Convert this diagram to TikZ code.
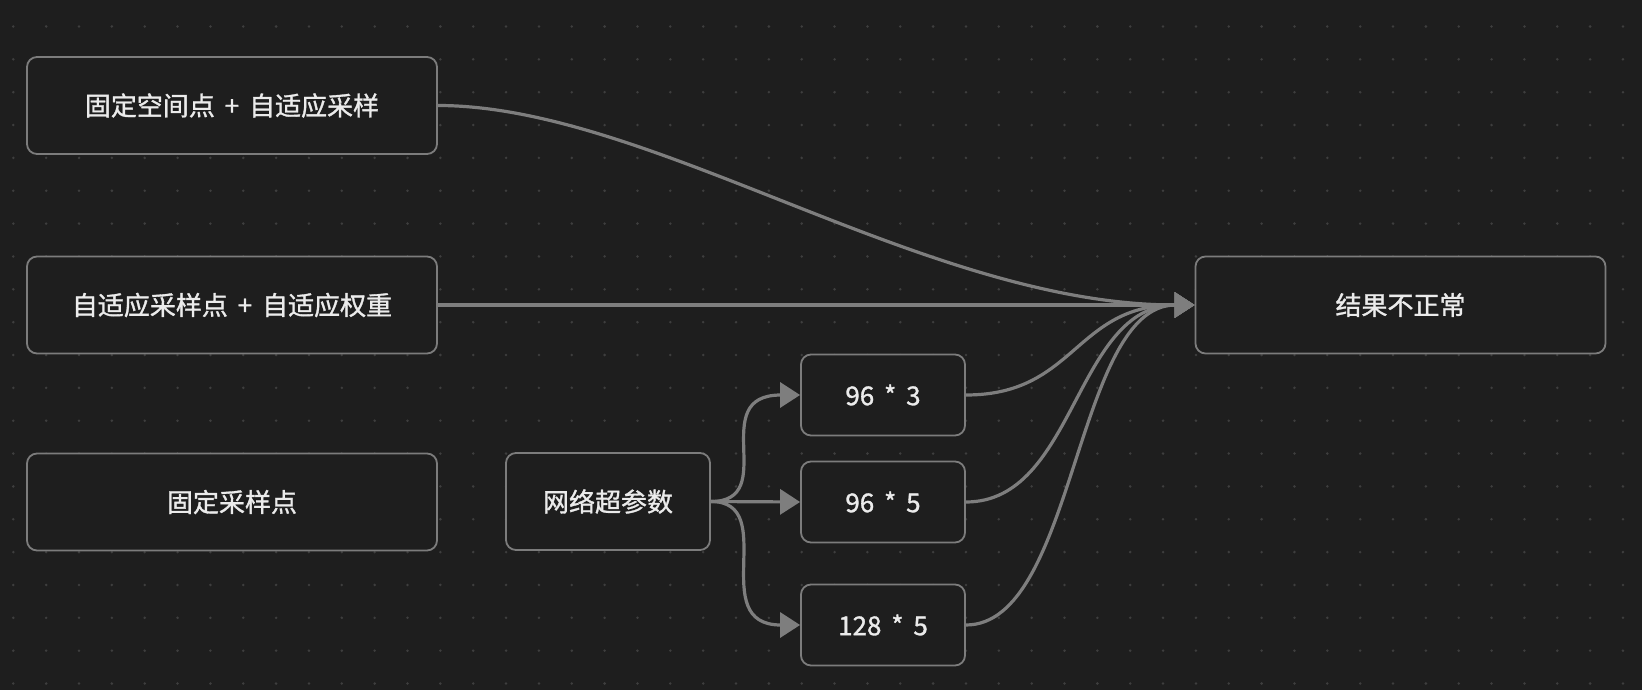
\documentclass[tikz,border=0pt]{standalone}
\usepackage{fontspec}
\newfontfamily\cjk[WordSpace=1.7,FakeBold=1.2]{Noto Sans CJK SC}
\usetikzlibrary{arrows.meta}
\definecolor{bg}{HTML}{1E1E1E}
\definecolor{dotc}{HTML}{3E3E3E}
\definecolor{edgec}{HTML}{7E7E7E}
\definecolor{borderc}{HTML}{7C7C7C}
\definecolor{txt}{HTML}{EBEBEB}
\begin{document}
\begin{tikzpicture}[x=1pt,y=-1pt,
 box/.style={draw=borderc,line width=1.8pt,rounded corners=10pt,fill=bg,text=txt,font=\cjk\fontsize{26}{30}\selectfont,inner sep=0pt},
 bigbox/.style={box,minimum width=410pt,minimum height=97pt},
 smallbox/.style={box,minimum width=164pt,minimum height=81pt},
 link/.style={draw=edgec,line width=3.2pt,-{Triangle[length=20pt,width=25pt]}}]
\fill[bg] (0,0) rectangle (1642,690);
\useasboundingbox (0,0) rectangle (1642,690);
\foreach \i in {0,...,49}{\foreach \j in {0,...,21}{\fill[dotc] (13.3+32.85*\i,-6.35+32.85*\j) circle (1.4pt);}}
\node[bigbox] (b1) at (232,105.5) {固定空间点 + 自适应采样};
\node[bigbox] (b2) at (232,305) {自适应采样点 + 自适应权重};
\node[bigbox] (b3) at (232,502) {固定采样点};
\node[box,minimum width=204pt,minimum height=97pt] (net) at (608,501.5) {网络超参数};
\node[smallbox] (s1) at (883,395) {96 * 3};
\node[smallbox] (s2) at (883,502) {96 * 5};
\node[smallbox] (s3) at (883,625) {128 * 5};
\node[bigbox] (res) at (1400.5,305) {结果不正常};
\draw[link] (b1.east) .. controls +(213,0) and +(-268,0) .. (res.west);
\draw[link] (b2.east) -- (res.west);
\draw[link] (s1.east) .. controls +(110,0) and +(-120,0) .. (res.west);
\draw[link] (s2.east) .. controls +(110,0) and +(-120,0) .. (res.west);
\draw[link] (s3.east) .. controls +(110,0) and +(-120,0) .. (res.west);
\draw[link] (net.east) .. controls +(70,0) and +(-95,0) .. (s1.west);
\draw[link] (net.east) -- (s2.west);
\draw[link] (net.east) .. controls +(70,0) and +(-95,0) .. (s3.west);
\end{tikzpicture}
\end{document}
